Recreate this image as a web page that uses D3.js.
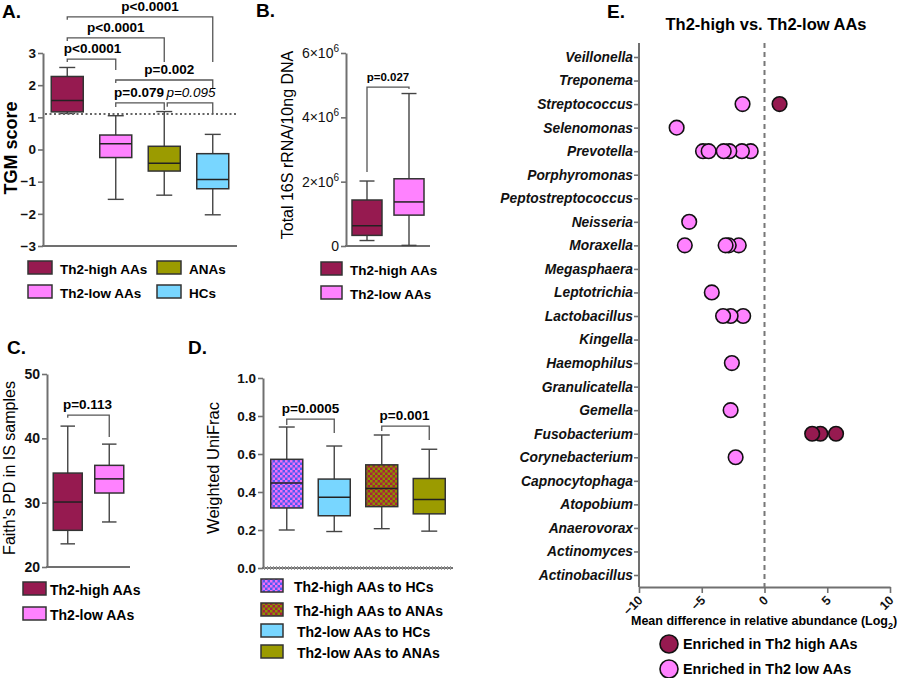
<!DOCTYPE html>
<html>
<head>
<meta charset="utf-8">
<script src="https://cdn.jsdelivr.net/npm/d3@7/dist/d3.min.js"></script>
<style>
  body { margin: 0; background: #fff; }
  text { font-family: 'Liberation Sans', Arial, Helvetica, sans-serif; }
</style>
</head>
<body>
<svg id="fig" width="900" height="678" font-family="Liberation Sans"></svg>
<script>
// ---- data ----
// box stats are [min, q1, median, q3, max]
const groupsA = ['Th2-high AAs', 'Th2-low AAs', 'ANAs', 'HCs'];
const tgmStats = [
    [1.12, 1.17, 1.52, 2.27, 2.55],
    [-1.55, -0.25, 0.18, 0.45, 1.05],
    [-1.42, -0.67, -0.43, 0.10, 1.18],
    [-2.03, -1.22, -0.93, -0.13, 0.47]
];
const tgmTicks = [-3, -2, -1, 0, 1, 2, 3];
const tgmCutoff = 1.1;
// [from, to, bar, leftEnd, rightEnd, label, italic, dx]
const tgmPvals = [
    [0, 1, 2.81, 2.72, 2.47, 'p<0.0001', false, 1],
    [0, 2, 3.47, 3.37, 2.72, 'p<0.0001', false, 0],
    [0, 3, 4.12, 4.03, 2.72, 'p<0.0001', false, 10],
    [1, 3, 2.16, 2.07, 1.91, 'p=0.002', false, 5],
    [1, 2, 1.45, 1.32, 1.23, 'p=0.079', false, -1],
    [2, 3, 1.45, 1.33, 1.10, 'p=0.095', true, 1]
];

const groupsB = ['Th2-high AAs', 'Th2-low AAs'];
const rrnaStats = [
    [0.17e6, 0.33e6, 0.63e6, 1.43e6, 2.02e6],
    [0.02e6, 0.96e6, 1.37e6, 2.09e6, 4.74e6]
];
const rrnaTicks = [0, 2e6, 4e6, 6e6];
const rrnaPvals = [[0, 1, 4.94e6, 2.3e6, 4.88e6, 'p=0.027', false, 0]];

const faithStats = [
    [23.6, 25.7, 30.1, 34.6, 41.9],
    [27.0, 31.5, 33.7, 35.8, 39.1]
];
const faithTicks = [20, 30, 40, 50];
const faithPvals = [[0, 1, 43.6, 43.2, 40.2, 'p=0.113', false, -1]];

const groupsD = ['Th2-high AAs to HCs', 'Th2-low AAs to HCs', 'Th2-high AAs to ANAs', 'Th2-low AAs to ANAs'];
const unifracStats = [
    [0.200, 0.316, 0.447, 0.572, 0.742],
    [0.192, 0.275, 0.372, 0.468, 0.642],
    [0.207, 0.323, 0.419, 0.543, 0.700],
    [0.194, 0.285, 0.360, 0.471, 0.625]
];
const unifracTicks = [0, 0.2, 0.4, 0.6, 0.8, 1.0];
const unifracPvals = [
    [0, 1, 0.784, 0.753, 0.711, 'p=0.0005', false, 0],
    [2, 3, 0.747, 0.721, 0.674, 'p=0.001', false, -1]
];
const legendOrderD = [0, 2, 1, 3];

const genera = ['Veillonella', 'Treponema', 'Streptococcus', 'Selenomonas', 'Prevotella',
    'Porphyromonas', 'Peptostreptococcus', 'Neisseria', 'Moraxella', 'Megasphaera',
    'Leptotrichia', 'Lactobacillus', 'Kingella', 'Haemophilus', 'Granulicatella', 'Gemella',
    'Fusobacterium', 'Corynebacterium', 'Capnocytophaga', 'Atopobium', 'Anaerovorax',
    'Actinomyces', 'Actinobacillus'];
const highGenus = ['Streptococcus', 'Fusobacterium', 'Fusobacterium', 'Fusobacterium'];
const highDiff = [1.2, 5.7, 4.45, 3.8];
const lowGenus = ['Streptococcus', 'Selenomonas',
    'Prevotella', 'Prevotella', 'Prevotella', 'Prevotella', 'Prevotella', 'Prevotella',
    'Neisseria', 'Moraxella', 'Moraxella', 'Moraxella', 'Moraxella', 'Leptotrichia',
    'Lactobacillus', 'Lactobacillus', 'Lactobacillus', 'Haemophilus', 'Gemella', 'Corynebacterium'];
const lowDiff = [-1.75, -7.0,
    -1.1, -1.8, -2.8, -3.25, -4.9, -4.45,
    -6.0, -2.05, -2.85, -3.1, -6.35, -4.2,
    -1.7, -2.7, -3.3, -2.6, -2.7, -2.3];
const xTicksE = [-10, -5, 0, 5, 10];

// ---- colours ----
const colHigh = '#961a50',
    colLow = '#ff82ff',
    colANA = '#9b9b00',
    colHC = '#78d6ff',
    axisCol = '#707070';

const FONT = "'Liberation Sans', Arial, sans-serif";
const svg = d3.select('#fig');
const defs = svg.append('defs');

function checker(id, c1, c2) {
    const p = defs.append('pattern').attr('id', id)
        .attr('patternUnits', 'userSpaceOnUse').attr('width', 5).attr('height', 5);
    p.append('rect').attr('width', 5).attr('height', 5).attr('fill', c1);
    p.append('rect').attr('width', 2.5).attr('height', 2.5).attr('fill', c2);
    p.append('rect').attr('x', 2.5).attr('y', 2.5).attr('width', 2.5).attr('height', 2.5).attr('fill', c2);
}
checker('chkHC', '#4f5cf0', '#f46ef4');
checker('chkANA', '#a8203c', '#8a9400');

// ---- helpers ----
function yAxis(g, y, ticks, fmt, size, weight) {
    const ax = g.append('g')
        .call(d3.axisLeft(y).tickValues(ticks).tickFormat(fmt).tickSize(5).tickSizeOuter(0));
    ax.attr('font-family', FONT).attr('font-size', size);
    ax.select('.domain').attr('stroke', axisCol).attr('stroke-width', 2);
    ax.selectAll('.tick line').attr('stroke', axisCol).attr('stroke-width', 1.6);
    ax.selectAll('.tick text').attr('fill', '#111').attr('font-weight', weight).attr('x', -7);
    return ax;
}

function xLine(g, x, y0) {
    g.append('line')
        .attr('x1', x.range()[0] - 1).attr('x2', x.range()[1])
        .attr('y1', y0).attr('y2', y0)
        .attr('stroke', axisCol).attr('stroke-width', 2);
}

function drawBoxes(g, x, y, names, stats, fills, boxW) {
    names.forEach((name, i) => {
        const s = stats[i], cx = x(name), b = g.append('g');
        b.append('line').attr('x1', cx).attr('x2', cx).attr('y1', y(s[0])).attr('y2', y(s[4]))
            .attr('stroke', '#444').attr('stroke-width', 1.4);
        [s[0], s[4]].forEach(v => {
            b.append('line').attr('x1', cx - boxW / 4).attr('x2', cx + boxW / 4)
                .attr('y1', y(v)).attr('y2', y(v))
                .attr('stroke', '#444').attr('stroke-width', 1.4);
        });
        b.append('rect').attr('x', cx - boxW / 2).attr('width', boxW)
            .attr('y', y(s[3])).attr('height', y(s[1]) - y(s[3]))
            .attr('fill', fills[i]).attr('stroke', '#333').attr('stroke-width', 1.5);
        b.append('line').attr('x1', cx - boxW / 2).attr('x2', cx + boxW / 2)
            .attr('y1', y(s[2])).attr('y2', y(s[2]))
            .attr('stroke', '#222').attr('stroke-width', 1.5);
    });
}

function brackets(g, x, y, names, list, size) {
    list.forEach(d => {
        const [a, b, bar, le, re, label, italic, dx] = d;
        const x1 = x(names[a]) + (italic ? 3 : 0), x2 = x(names[b]);
        g.append('path')
            .attr('d', 'M' + x1 + ',' + y(le) + 'V' + y(bar) + 'H' + x2 + 'V' + y(re))
            .attr('fill', 'none').attr('stroke', '#555').attr('stroke-width', 1.3);
        g.append('text')
            .attr('x', (x1 + x2) / 2 + dx).attr('y', y(bar) - 6)
            .attr('text-anchor', 'middle').attr('font-size', size)
            .attr('font-weight', italic ? 'normal' : 'bold')
            .attr('font-style', italic ? 'italic' : 'normal')
            .text(label);
    });
}

function legendRects(g, items, w, h, tx, size) {
    items.forEach(it => {
        g.append('rect').attr('x', it.x).attr('y', it.y).attr('width', w).attr('height', h)
            .attr('fill', it.fill).attr('stroke', '#333').attr('stroke-width', 1.5);
        g.append('text').attr('x', it.x + tx + (it.indent || 0)).attr('y', it.y + h - 0.5)
            .attr('font-size', size).attr('font-weight', 'bold').text(it.label);
    });
}

function yTitle(g, x, y, text, size, weight) {
    g.append('text').attr('transform', 'translate(' + x + ',' + y + ') rotate(-90)')
        .attr('text-anchor', 'middle').attr('font-size', size).attr('font-weight', weight)
        .text(text);
}

function panelLetter(x, y, t) {
    svg.append('text').attr('x', x).attr('y', y).attr('font-size', 19)
        .attr('font-weight', 'bold').text(t);
}

// ---- A. TGM score ----
const gA = svg.append('g');
const xA = d3.scalePoint().domain(groupsA).range([43, 237]).padding(0.5);
const yA = d3.scaleLinear().domain([-3, 3]).range([246, 53]);
const fillsA = [colHigh, colLow, colANA, colHC];

yAxis(gA.append('g').attr('transform', 'translate(43,0)'), yA, tgmTicks, d3.format('d'), 13.5, 'bold');
xLine(gA, xA, 246);
drawBoxes(gA, xA, yA, groupsA, tgmStats, fillsA, 32);
gA.append('line').attr('x1', 45).attr('x2', 237)
    .attr('y1', yA(tgmCutoff)).attr('y2', yA(tgmCutoff))
    .attr('stroke', '#666').attr('stroke-width', 2).attr('stroke-dasharray', '2,2.5');
brackets(gA, xA, yA, groupsA, tgmPvals, 13.5);
yTitle(gA, 17, 148, 'TGM score', 18, 'bold');
legendRects(gA, [
    {x: 28, y: 261, fill: colHigh, label: groupsA[0]},
    {x: 157, y: 261, fill: colANA, label: groupsA[2]},
    {x: 28, y: 285, fill: colLow, label: groupsA[1]},
    {x: 157, y: 285, fill: colHC, label: groupsA[3]}
], 24, 13, 32, 13.5);
panelLetter(2, 18, 'A.');

// ---- B. 16S rRNA ----
const gB = svg.append('g');
const xB = d3.scalePoint().domain(groupsB).range([346, 430]).padding(0.5);
const yB = d3.scaleLinear().domain([0, 6e6]).range([246, 53]);
const axB = yAxis(gB.append('g').attr('transform', 'translate(346,0)'), yB, rrnaTicks, d => d, 14, 'normal');
axB.selectAll('.tick text').each(function (d) {
    const t = d3.select(this).text('');
    if (d === 0) { t.text('0'); return; }
    t.append('tspan').text((d / 1e6) + '\u00d710');
    t.append('tspan').attr('dy', -6).attr('font-size', 10).text('6');
});
xLine(gB, xB, 246);
drawBoxes(gB, xB, yB, groupsB, rrnaStats, [colHigh, colLow], 30);
brackets(gB, xB, yB, groupsB, rrnaPvals, 11.5);
yTitle(gB, 293, 145, 'Total 16S rRNA/10ng DNA', 16, 'normal');
legendRects(gB, [
    {x: 321, y: 262, fill: colHigh, label: groupsB[0]},
    {x: 321, y: 286, fill: colLow, label: groupsB[1]}
], 21, 13, 29, 13.5);
panelLetter(256, 17, 'B.');

// ---- C. Faith's PD ----
const gC = svg.append('g');
const xC = d3.scalePoint().domain(groupsB).range([47, 130]).padding(0.5);
const yC = d3.scaleLinear().domain([20, 50]).range([567, 374]);
yAxis(gC.append('g').attr('transform', 'translate(47,0)'), yC, faithTicks, d3.format('d'), 14, 'bold');
xLine(gC, xC, 567);
drawBoxes(gC, xC, yC, groupsB, faithStats, [colHigh, colLow], 29);
brackets(gC, xC, yC, groupsB, faithPvals, 13.5);
yTitle(gC, 15, 468, "Faith's PD in IS samples", 16, 'normal');
legendRects(gC, [
    {x: 23, y: 582, fill: colHigh, label: groupsB[0]},
    {x: 23, y: 607, fill: colLow, label: groupsB[1]}
], 23, 13, 27, 14);
panelLetter(7, 354, 'C.');

// ---- D. Weighted UniFrac ----
const gD = svg.append('g');
const xD = d3.scalePoint().domain(groupsD).range([263, 453]).padding(0.5);
const yD = d3.scaleLinear().domain([0, 1]).range([568, 378]);
const fillsD = ['url(#chkHC)', colHC, 'url(#chkANA)', colANA];
yAxis(gD.append('g').attr('transform', 'translate(263,0)'), yD, unifracTicks, d3.format('.1f'), 13.5, 'bold');
xLine(gD, xD, 568);
gD.append('line').attr('x1', 264).attr('x2', 453).attr('y1', 568).attr('y2', 568)
    .attr('stroke', '#999').attr('stroke-width', 4).attr('stroke-dasharray', '1,2');
drawBoxes(gD, xD, yD, groupsD, unifracStats, fillsD, 32);
brackets(gD, xD, yD, groupsD, unifracPvals, 13.5);
yTitle(gD, 219, 468, 'Weighted UniFrac', 16.5, 'normal');
const rowsD = [579, 603, 624, 645];
legendRects(gD, legendOrderD.map((k, i) => ({
    x: 261, y: rowsD[i], fill: fillsD[k], label: groupsD[k], indent: i > 1 ? 3 : 0
})), 22, 13, 33, 14);
panelLetter(188, 354, 'D.');

// ---- E. differential abundance ----
const gE = svg.append('g');
const xE = d3.scaleLinear().domain([-10, 10]).range([639, 890]);
const yE = d3.scalePoint().domain(genera).range([57, 575]);
const topE = 43, botE = 587;

const axE = gE.append('g').attr('transform', 'translate(639,0)')
    .call(d3.axisLeft(yE).tickSize(5).tickSizeOuter(0));
axE.attr('font-family', FONT).attr('font-size', 13.8);
axE.select('.domain').remove();
axE.selectAll('.tick line').attr('stroke', axisCol).attr('stroke-width', 1.6);
axE.selectAll('.tick text').attr('fill', '#111').attr('font-weight', 'bold')
    .attr('font-style', 'italic').attr('x', -6);
gE.append('line').attr('x1', 639).attr('x2', 639).attr('y1', topE).attr('y2', botE)
    .attr('stroke', axisCol).attr('stroke-width', 2);

const axEx = gE.append('g').attr('transform', 'translate(0,' + botE + ')')
    .call(d3.axisBottom(xE).tickValues(xTicksE).tickFormat(d3.format('d')).tickSize(6).tickSizeOuter(0));
axEx.attr('font-family', FONT).attr('font-size', 12.5);
axEx.select('.domain').attr('stroke', axisCol).attr('stroke-width', 2);
axEx.selectAll('.tick line').attr('stroke', axisCol).attr('stroke-width', 1.6);
axEx.selectAll('.tick text').attr('fill', '#111').attr('font-weight', 'bold')
    .attr('text-anchor', 'end').attr('dy', null).attr('y', 0)
    .attr('transform', 'translate(4,14) rotate(-45)');

gE.append('line').attr('x1', xE(0)).attr('x2', xE(0)).attr('y1', topE).attr('y2', botE)
    .attr('stroke', '#777').attr('stroke-width', 2).attr('stroke-dasharray', '5,4');

gE.selectAll('.lowPt').data(lowDiff).enter().append('circle')
    .attr('class', 'lowPt')
    .attr('cx', d => xE(d)).attr('cy', (d, i) => yE(lowGenus[i])).attr('r', 7.3)
    .attr('fill', colLow).attr('stroke', '#111').attr('stroke-width', 1.6);
gE.selectAll('.highPt').data(highDiff).enter().append('circle')
    .attr('class', 'highPt')
    .attr('cx', d => xE(d)).attr('cy', (d, i) => yE(highGenus[i])).attr('r', 7.3)
    .attr('fill', colHigh).attr('stroke', '#111').attr('stroke-width', 1.6);

gE.append('text').attr('x', 766).attr('y', 30).attr('text-anchor', 'middle')
    .attr('font-size', 16.5).attr('font-weight', 'bold').text('Th2-high vs. Th2-low AAs');

const xt = gE.append('text').attr('x', 631).attr('y', 625)
    .attr('font-size', 12.5).attr('font-weight', 'bold');
xt.append('tspan').text('Mean difference in relative abundance  (Log');
xt.append('tspan').attr('dy', 4).attr('font-size', 9).text('2');
xt.append('tspan').attr('dy', -4).text(')');

[[colHigh, 'Enriched in Th2 high AAs', 644], [colLow, 'Enriched in Th2 low AAs', 669]].forEach(l => {
    gE.append('circle').attr('cx', 669).attr('cy', l[2]).attr('r', 9)
        .attr('fill', l[0]).attr('stroke', '#111').attr('stroke-width', 1.6);
    gE.append('text').attr('x', 683).attr('y', l[2] + 5).attr('font-size', 14.4)
        .attr('font-weight', 'bold').text(l[1]);
});
panelLetter(607, 18, 'E.');
</script>
</body>
</html>
